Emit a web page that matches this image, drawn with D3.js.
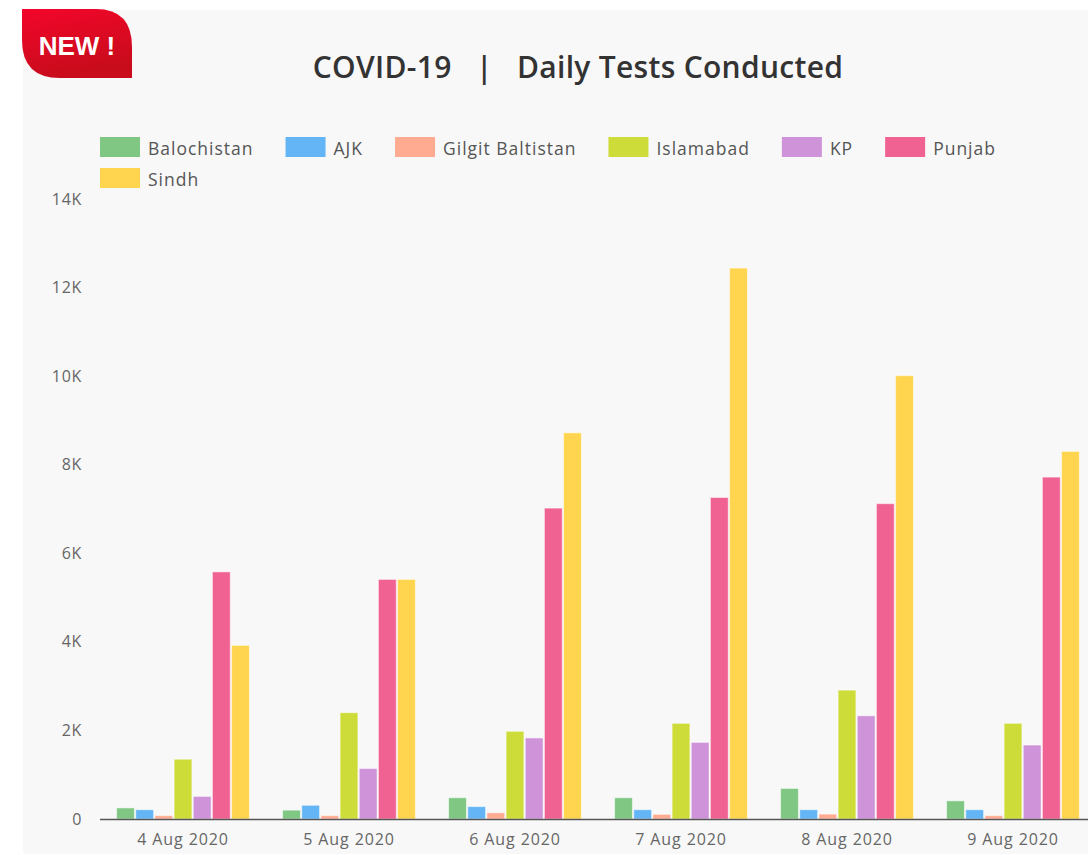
<!DOCTYPE html>
<html>
<head>
<meta charset="utf-8">
<script src="https://cdn.jsdelivr.net/npm/d3@7"></script>
<style>
  html, body { margin: 0; padding: 0; background: #ffffff; }
  svg { display: block; }
</style>
</head>
<body>
<svg id="chart" width="1088" height="855"></svg>
<script>
// ---------------- DATA ----------------
const dates = ["4 Aug 2020", "5 Aug 2020", "6 Aug 2020", "7 Aug 2020", "8 Aug 2020", "9 Aug 2020"];
const regions = ["Balochistan", "AJK", "Gilgit Baltistan", "Islamabad", "KP", "Punjab", "Sindh"];
const balochistan = [250, 200, 480, 480, 690, 410];
const ajk = [210, 310, 280, 210, 210, 210];
const gilgitBaltistan = [75, 75, 140, 105, 110, 75];
const islamabad = [1350, 2400, 1980, 2160, 2910, 2160];
const kp = [510, 1140, 1830, 1730, 2330, 1670];
const punjab = [5580, 5410, 7020, 7260, 7120, 7720];
const sindh = [3920, 5410, 8720, 12440, 10010, 8300];
const yTicks = [0, 2000, 4000, 6000, 8000, 10000, 12000, 14000];
const yTickLabels = ["0", "2K", "4K", "6K", "8K", "10K", "12K", "14K"];
const colors = ["#81c784", "#64b5f6", "#ffab91", "#cddc39", "#ce93d8", "#f06292", "#ffd54f"];
const titleText = "COVID-19   |   Daily Tests Conducted";

const seriesValues = [balochistan, ajk, gilgitBaltistan, islamabad, kp, punjab, sindh];

// ---------------- LAYOUT ----------------
const W = 1088, H = 855;
const svg = d3.select("#chart");
const FONT = "'Open Sans', 'Noto Sans', sans-serif";

// panel background
svg.append("rect").attr("x", 23).attr("y", 10).attr("width", W - 23).attr("height", 844)
  .attr("fill", "#f8f8f8");

// badge
const defs = svg.append("defs");
const grad = defs.append("linearGradient").attr("id", "badgeGrad")
  .attr("x1", 0).attr("y1", 0).attr("x2", 0.3).attr("y2", 1);
grad.append("stop").attr("offset", "0%").attr("stop-color", "#f3062a");
grad.append("stop").attr("offset", "100%").attr("stop-color", "#c80c1c");
svg.append("path")
  .attr("d", "M22,9 H96 Q132,9 132,47 V78 H60 Q22,78 22,40 Z")
  .attr("fill", "url(#badgeGrad)");
svg.append("text").attr("x", 77).attr("y", 55)
  .attr("text-anchor", "middle")
  .attr("font-family", "'Liberation Sans', Arial, sans-serif")
  .attr("font-weight", "bold").attr("font-size", 26)
  .attr("fill", "#ffffff").text("NEW !");

// title
svg.append("text").attr("x", 578).attr("y", 78)
  .attr("text-anchor", "middle")
  .attr("font-family", FONT).attr("font-weight", 600).attr("font-size", 30)
  .attr("letter-spacing", 0.3)
  .attr("fill", "#333333")
  .style("white-space", "pre")
  .attr("xml:space", "preserve")
  .text(titleText);

// legend (flow layout)
const legend = svg.append("g");
let lx = 100, ly = 137;
const legendMaxX = 1060;
regions.forEach((name, i) => {
  const g = legend.append("g");
  const t = g.append("text")
    .attr("font-family", FONT).attr("font-size", 17.5).attr("fill", "#555555")
    .attr("letter-spacing", 1)
    .attr("dominant-baseline", "central")
    .text(name);
  const tw = t.node().getComputedTextLength();
  const itemW = 40 + 8 + tw;
  if (lx + itemW > legendMaxX && lx > 100) { lx = 100; ly += 31; }
  g.append("rect").attr("x", lx).attr("y", ly).attr("width", 40).attr("height", 20)
    .attr("fill", colors[i]);
  t.attr("x", lx + 48).attr("y", ly + 11);
  lx += itemW + 32;
});

// scales
const x0 = d3.scaleBand().domain(dates).range([100, 1096]).paddingInner(0.2).paddingOuter(0.1);
const x1 = d3.scaleBand().domain(regions).range([0, x0.bandwidth()]).paddingInner(0.07);
const y = d3.scaleLinear().domain([0, 14000]).range([819, 199]);

// y axis labels
const yAxis = d3.axisLeft(y).tickValues(yTicks)
  .tickFormat((d, i) => yTickLabels[i]).tickSize(0).tickPadding(0);
const yg = svg.append("g").attr("transform", "translate(82,0)").call(yAxis);
yg.select(".domain").remove();
yg.selectAll("text").attr("font-family", FONT).attr("font-size", 16)
  .attr("letter-spacing", 0.7).attr("fill", "#666666");

// bars
const groups = svg.append("g").selectAll("g").data(dates).join("g")
  .attr("transform", d => `translate(${x0(d)},0)`);
groups.selectAll("rect")
  .data((d, di) => regions.map((r, ri) => ({ r, ri, v: seriesValues[ri][di] })))
  .join("rect")
  .attr("x", d => x1(d.r))
  .attr("width", x1.bandwidth())
  .attr("y", d => y(d.v))
  .attr("height", d => y(0) - y(d.v))
  .attr("fill", d => colors[d.ri])
  .attr("stroke", "#ffffff").attr("stroke-opacity", 0.5).attr("stroke-width", 1);

// x axis
const xAxis = d3.axisBottom(x0).tickSize(0).tickPadding(14);
const xg = svg.append("g").attr("transform", "translate(0,819.5)").call(xAxis);
xg.select(".domain").attr("stroke", "#555555").attr("stroke-width", 1.5)
  .attr("d", "M100,0H1096");
xg.selectAll("text").attr("font-family", FONT).attr("font-size", 16)
  .attr("letter-spacing", 0.9).attr("fill", "#666666");
</script>
</body>
</html>
